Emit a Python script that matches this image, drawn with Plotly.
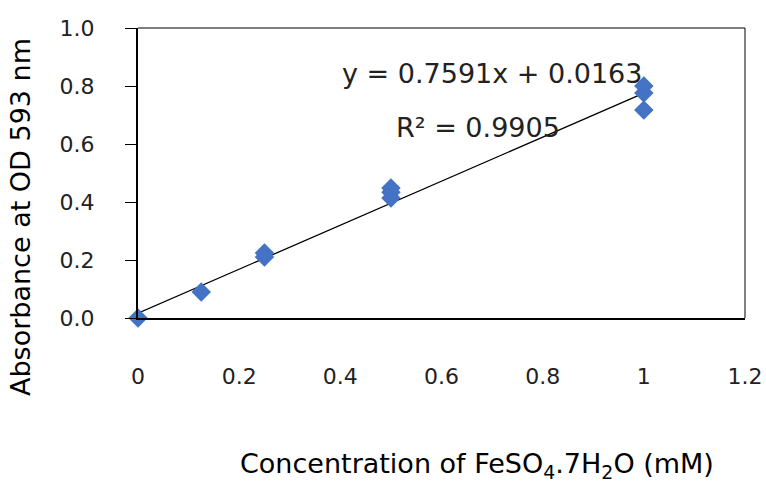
import plotly.graph_objects as go

conc = [0, 0.125, 0.25, 0.25, 0.5, 0.5, 0.5, 1.0, 1.0, 1.0]
absorb = [0.0, 0.09, 0.21, 0.224, 0.414, 0.434, 0.448, 0.717, 0.776, 0.80]
slope = 0.7591
intercept = 0.0163
eq_text = "y = 0.7591x + 0.0163"
r2_text = "R² = 0.9905"
x_ticks = [0, 0.2, 0.4, 0.6, 0.8, 1.0, 1.2]
x_tick_labels = ["0", "0.2", "0.4", "0.6", "0.8", "1", "1.2"]
y_ticks = [0.0, 0.2, 0.4, 0.6, 0.8, 1.0]
y_tick_labels = ["0.0", "0.2", "0.4", "0.6", "0.8", "1.0"]

FONT = "DejaVu Sans"

fit_x = [min(conc), max(conc)]
fit_y = [slope * v + intercept for v in fit_x]

fig = go.Figure()
fig.add_trace(go.Scatter(x=fit_x, y=fit_y, mode="lines",
                         line=dict(color="black", width=1.3), showlegend=False,
                         hoverinfo="skip", cliponaxis=False))
fig.add_trace(go.Scatter(x=conc, y=absorb, mode="markers",
                         marker=dict(symbol="diamond", size=15, color="#4472C4"),
                         showlegend=False, cliponaxis=False))

fig.update_layout(
    width=766, height=482,
    margin=dict(l=138, r=21, t=28, b=164),
    paper_bgcolor="white", plot_bgcolor="white",
    font=dict(family=FONT, size=22, color="#222222"),
    xaxis=dict(range=[0, 1.2], tickvals=x_ticks, ticktext=x_tick_labels,
               showgrid=False, zeroline=False, showline=True, linecolor="black",
               linewidth=2, mirror=False, ticks="", ticklabelstandoff=38,
               automargin=False,
               tickfont=dict(family=FONT, size=22, color="#222222")),
    yaxis=dict(range=[0, 1.0], tickvals=y_ticks, ticktext=y_tick_labels,
               showgrid=False, zeroline=False, showline=True, linecolor="black",
               linewidth=2, ticks="outside", ticklen=11, tickcolor="black",
               tickwidth=1.3, ticklabelstandoff=26, automargin=False,
               tickfont=dict(family=FONT, size=22, color="#222222")),
    shapes=[
        dict(type="line", xref="paper", yref="paper", x0=0, x1=1, y0=1, y1=1,
             line=dict(color="black", width=1)),
        dict(type="line", xref="paper", yref="paper", x0=1, x1=1, y0=0, y1=1,
             line=dict(color="black", width=1)),
    ],
    annotations=[
        dict(text=eq_text, xref="paper", yref="paper", x=(492 - 138) / 607,
             y=(318 - 73) / 290, showarrow=False, xanchor="center", yanchor="middle",
             font=dict(family=FONT, size=27, color="#222222")),
        dict(text=r2_text, xref="paper", yref="paper", x=(478 - 138) / 607,
             y=(318 - 127) / 290, showarrow=False, xanchor="center", yanchor="middle",
             font=dict(family=FONT, size=27, color="#222222")),
        dict(text="Concentration of FeSO<sub>4</sub>.7H<sub>2</sub>O (mM)",
             xref="paper", yref="paper", x=(477 - 138) / 607, y=(318 - 465) / 290,
             showarrow=False, xanchor="center", yanchor="middle",
             font=dict(family=FONT, size=27, color="black")),
        dict(text="Absorbance at OD 593 nm", xref="paper", yref="paper",
             x=(20 - 138) / 607, y=(318 - 217) / 290, textangle=-90,
             showarrow=False, xanchor="center", yanchor="middle",
             font=dict(family=FONT, size=27, color="black")),
    ],
)

fig.write_html("out.html")
